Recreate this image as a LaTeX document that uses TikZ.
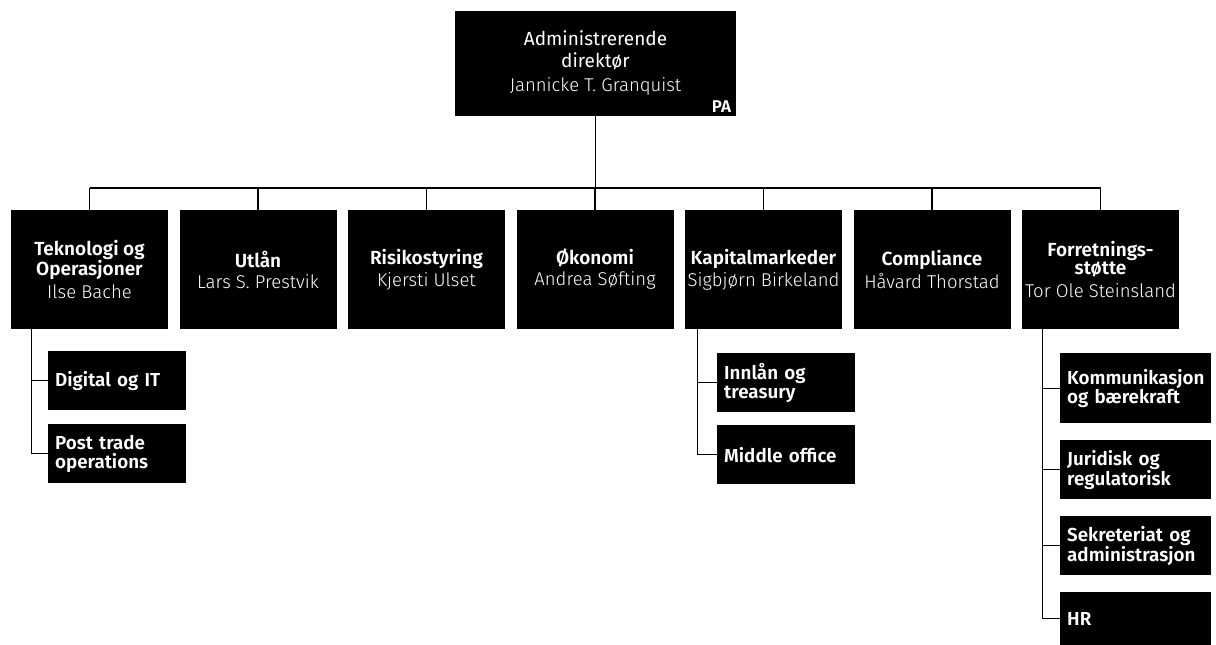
\documentclass[tikz,border=0pt]{standalone}
\usepackage{fontspec}
\setmainfont{Fira Sans}
\newfontfamily\lightfont{Fira Sans Light}
\newfontfamily\semifont{Fira Sans SemiBold}
\usetikzlibrary{calc,positioning}
\def\who#1{{\lightfont\fontsize{18.5}{22}\selectfont #1}}

\begin{document}
\begin{tikzpicture}
    	[x=1pt, y=-1pt,
    		ceo/.style={
    		  rectangle,
    		  fill=black,
    		  text=white,
    		  minimum width=281pt,
    		  minimum height=105pt,
    		  inner sep=0pt,
    		  align=center,
    		  font=\fontsize{19}{22}\selectfont
    		},
    		unit/.style={
    		  rectangle,
    		  fill=black,
    		  text=white,
    		  minimum width=157pt,
    		  minimum height=119pt,
    		  inner sep=0pt,
    		  align=center,
    		  font=\semifont\fontsize{19}{18}\selectfont
    		},
    		sub/.style={
    		  rectangle,
    		  fill=black,
    		  text=white,
    		  anchor=north west,
    		  minimum width=#1,
    		  text width=#1-14pt,
    		  minimum height=59pt,
    		  inner xsep=7pt,
    		  inner ysep=0pt,
    		  align=left,
    		  font=\semifont\fontsize{18.8}{19}\selectfont
    		},
    		sub/.default=138pt,
    		tree/.style={line width=1.2pt, black}
    	]
    	\useasboundingbox (0,0) rectangle (1216,645);

    	% top
    	\node[ceo] (ceo) at (595.5,63) {Administrerende\\direktør\\[2pt]\who{Jannicke T. Granquist}};
    	\node[anchor=south east, text=white, inner xsep=5pt, inner ysep=3pt, font=\semifont\fontsize{17}{17}\selectfont] (pa) at (ceo.south east) {PA};

    	% units
    	\node[unit] (tek) at (89.5,269.5) {Teknologi og\\Operasjoner\\[5pt]\who{Ilse Bache}};
    	\node[unit] (utl) at (258,269.5) {Utlån\\[3pt]\who{Lars S. Prestvik}};
    	\node[unit] (ris) at (426.5,269.5) {Risikostyring\\[3pt]\who{Kjersti Ulset}};
    	\node[unit] (oko) at (595,269.5) {Økonomi\\[3pt]\who{Andrea Søfting}};
    	\node[unit] (kap) at (763.5,269.5) {Kapitalmarkeder\\[3pt]\who{Sigbjørn Birkeland}};
    	\node[unit] (com) at (932,269.5) {Compliance\\[3pt]\who{Håvard Thorstad}};
    	\node[unit] (for) at (1100.5,269.5) {Forretnings-\\støtte\\[5pt]\who{Tor Ole Steinsland}};

    	% sub units
    	\node[sub] (dig) at (48,351) {Digital og IT};
    	\node[sub] (pos) at (48,424) {Post trade\\operations};
    	\node[sub] (inn) at (717,353) {Innlån og\\treasury};
    	\node[sub] (mid) at (717,425) {Middle office};
    	\node[sub=151pt, minimum height=70pt] (kom) at (1060,353) {Kommunikasjon\\og bærekraft};
    	\node[sub=151pt] (jur) at (1060,440) {Juridisk og\\regulatorisk};
    	\node[sub=151pt] (sek) at (1060,516) {Sekreteriat og\\administrasjon};
    	\node[sub=151pt, minimum height=53pt] (hr) at (1060,592) {HR};

    	% lines
    	\coordinate (bus) at (0,188);
    	\draw[tree] (ceo.south) -- (ceo.south |- bus);
    	\draw[tree] (tek.north |- bus) -- (for.north |- bus);
    	\foreach \u in {tek,utl,ris,oko,kap,com,for}
    	  \draw[tree] (\u.north |- bus) -- (\u.north);

    	\draw[tree] ([xshift=21pt]tek.south west) |- (dig.west);
    	\draw[tree] ([xshift=21pt]tek.south west) |- (pos.west);
    	\draw[tree] ([xshift=13pt]kap.south west) |- (inn.west);
    	\draw[tree] ([xshift=13pt]kap.south west) |- (mid.west);
    	\foreach \s in {kom,jur,sek,hr}
    	  \draw[tree] ([xshift=21pt]for.south west) |- (\s.west);
    \end{tikzpicture}
\end{document}
